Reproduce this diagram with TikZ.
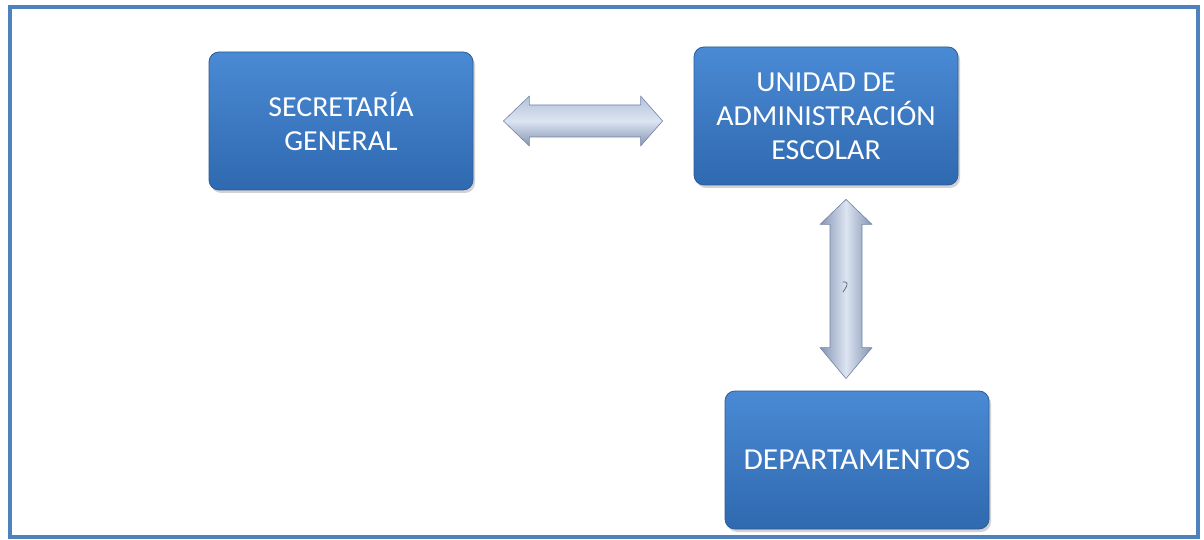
\documentclass[tikz,border=0pt]{standalone}
\usepackage{fontspec}
\setmainfont{Carlito}[FakeStretch=1.03]
\usetikzlibrary{calc,shadows}
\definecolor{frameblue}{HTML}{4F81BD}
\definecolor{boxtop}{HTML}{4A8AD4}
\definecolor{boxbot}{HTML}{2F69B0}
\definecolor{boxedge}{HTML}{2B5C98}
\definecolor{arrlight}{HTML}{DCE4F1}
\definecolor{arrmid}{HTML}{B3C2DA}
\definecolor{arrdark}{HTML}{8494B3}
\definecolor{arredge}{HTML}{7384A4}
\tikzset{
  unitbox/.style={draw=boxedge, line width=0.8pt, rounded corners=10pt,
    top color=boxtop, bottom color=boxbot,
    minimum width=264pt, minimum height=138pt,
    align=center, text=white, font=\fontsize{29}{34}\selectfont,
    drop shadow={opacity=0.35, shadow xshift=2pt, shadow yshift=-3pt}},
  harrow/.style={draw=arredge, line width=0.6pt, line join=round,
    top color=arrmid, bottom color=arrdark, middle color=arrlight},
  varrow/.style={draw=arredge, line width=0.6pt, line join=round,
    left color=arrdark, right color=arrdark, middle color=arrlight},
}
\begin{document}
\begin{tikzpicture}[x=1pt,y=1pt]
  \useasboundingbox (0,0) rectangle (1204,539);
  \fill[white] (0,0) rectangle (1204,539);
  % outer frame
  \draw[frameblue, line width=4pt] (10,2) rectangle (1198,532);

  % units
  \node[unitbox] (sec) at (341,418) {SECRETARÍA\\GENERAL};
  \node[unitbox] (uae) at (826,423) {UNIDAD DE\\ADMINISTRACIÓN\\ESCOLAR};
  \node[unitbox, font=\fontsize{30.5}{34}\selectfont] (dep) at (857,79) {DEPARTAMENTOS};

  % horizontal link: secretaría <-> unidad
  \coordinate (h1) at ($(sec.east)+(30,0)$);
  \coordinate (h2) at ($(uae.west |- sec.east)+(-31,0)$);
  \path[harrow] (h1) -- ++(26,25) -- ++(0,-9) -- ($(h2)+(-22,16)$)
    -- ++(0,9) -- (h2) -- ++(-22,-25) -- ++(0,9)
    -- ($(h1)+(26,-16)$) -- ++(0,-9) -- cycle;

  % vertical link: unidad <-> departamentos
  \coordinate (v1) at ($(uae.south)+(20,-14)$);
  \coordinate (v2) at ($(dep.north)+(-11,12)$);
  \path[varrow] (v1) -- ++(26,-25) -- ++(-10,0) -- ($(v2)+(16,31)$)
    -- ++(10,0) -- (v2) -- ++(-26,31) -- ++(10,0)
    -- ($(v1)+(-16,-25)$) -- ++(-10,0) -- cycle;

  % small mark on the vertical shaft
  \draw[arredge!70!black, line width=0.7pt, line cap=round]
    ($(v1)!0.5!(v2)+(-3,7)$) .. controls +(5,1) and +(3,4) .. ++(2,-7)
    .. controls +(-1,-1) .. ++(-2,-3);
\end{tikzpicture}
\end{document}
